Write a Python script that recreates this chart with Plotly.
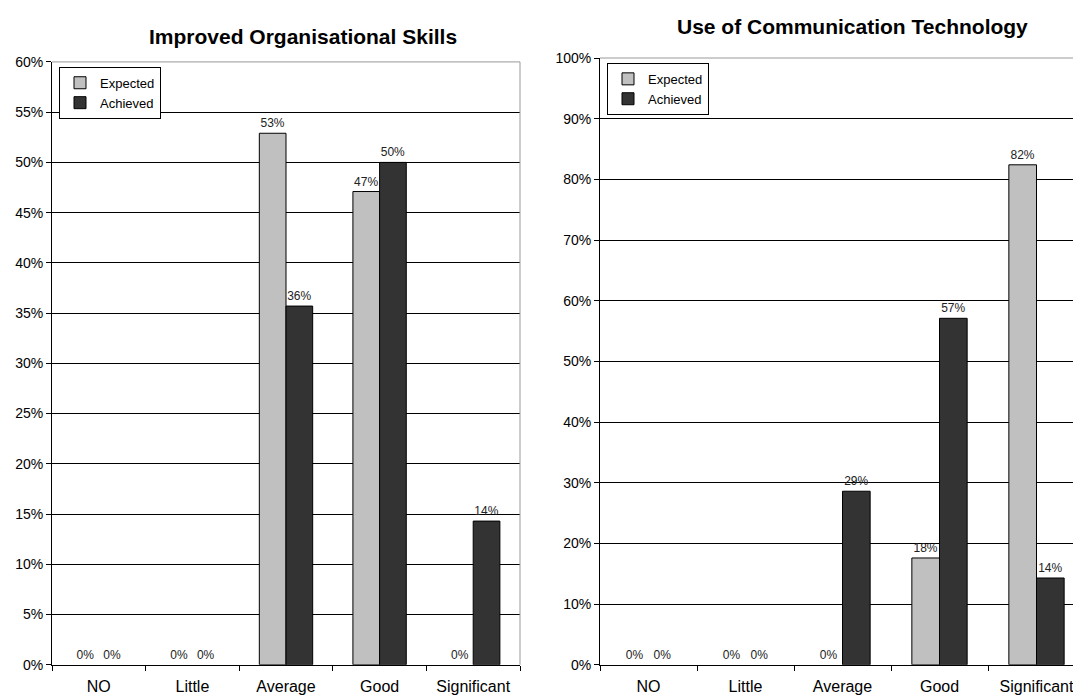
import plotly.graph_objects as go

categories = ["NO", "Little", "Average", "Good", "Significant"]
org_expected = [0, 0, 52.9, 47.1, 0]
org_achieved = [0, 0, 35.7, 50.0, 14.3]
comm_expected = [0, 0, 0, 17.6, 82.4]
comm_achieved = [0, 0, 28.6, 57.1, 14.3]
org_yticks = [0, 5, 10, 15, 20, 25, 30, 35, 40, 45, 50, 55, 60]
comm_yticks = [0, 10, 20, 30, 40, 50, 60, 70, 80, 90, 100]
series_names = ["Expected", "Achieved"]

W, H = 1081, 697
FONT = "Liberation Sans, Arial, sans-serif"
EXP_C = "#C0C0C0"
ACH_C = "#333333"

def px_x(v):
    return v / W

def px_y(v):
    return (H - v) / H

fig = go.Figure()

def add_bars(vals, name, color, xa, ya):
    fig.add_trace(go.Bar(
        x=categories, y=vals, name=name, xaxis=xa, yaxis=ya,
        marker=dict(color=color,
                    line=dict(color="#000000",
                              width=[0 if v == 0 else 1 for v in vals])),
        texttemplate="%{y:.0f}%", textposition="outside",
        textfont=dict(family=FONT, size=12, color="#222222"),
        cliponaxis=False, showlegend=False,
    ))

add_bars(org_expected, series_names[0], EXP_C, "x", "y")
add_bars(org_achieved, series_names[1], ACH_C, "x", "y")
add_bars(comm_expected, series_names[0], EXP_C, "x2", "y2")
add_bars(comm_achieved, series_names[1], ACH_C, "x2", "y2")

# legend-only entries (on a hidden axis) so the legend swatches keep an outline
for leg in ("legend", "legend2"):
    for name, color in zip(series_names, (EXP_C, ACH_C)):
        fig.add_trace(go.Bar(
            x=[0], y=[1], name=name, xaxis="x3", yaxis="y3",
            marker=dict(color=color, line=dict(color="#000000", width=1)),
            legend=leg, showlegend=True, hoverinfo="skip",
        ))

xcommon = dict(
    type="category", tickson="boundaries", ticks="outside", ticklen=5,
    tickcolor="#000000", showline=True, linecolor="#000000", linewidth=1,
    showgrid=False, tickfont=dict(family=FONT, size=16, color="#000000"),
    ticklabelstandoff=7,
)
ycommon = dict(
    ticks="outside", ticklen=5, tickcolor="#000000", showline=True,
    linecolor="#000000", linewidth=1, showgrid=True, gridcolor="#000000",
    gridwidth=1, zeroline=False,
    tickfont=dict(family=FONT, size=14, color="#000000"),
)

legend_common = dict(
    xanchor="left", yanchor="top", bordercolor="#000000", borderwidth=1,
    bgcolor="white", font=dict(family=FONT, size=13, color="#000000"),
    tracegroupgap=0, itemwidth=30, traceorder="normal",
)

fig.update_layout(
    width=W, height=H,
    margin=dict(l=0, r=0, t=0, b=0),
    paper_bgcolor="white", plot_bgcolor="white",
    barmode="group", bargap=0.43, bargroupgap=0.0,
    font=dict(family=FONT, color="#000000"),
    xaxis=dict(domain=[px_x(44), px_x(512)], anchor="y", **xcommon),
    yaxis=dict(domain=[px_y(664), px_y(47)], anchor="x", range=[0, 60],
               tickvals=org_yticks, ticktext=[f"{v}%" for v in org_yticks],
               **ycommon),
    xaxis2=dict(domain=[px_x(592), px_x(1077)], anchor="y2", **xcommon),
    yaxis2=dict(domain=[px_y(664), px_y(43)], anchor="x2", range=[0, 100],
                tickvals=comm_yticks, ticktext=[f"{v}%" for v in comm_yticks],
                **ycommon),
    xaxis3=dict(domain=[0, 0.001], anchor="y3", visible=False),
    yaxis3=dict(domain=[0, 0.001], anchor="x3", visible=False, range=[5, 6]),
    legend=dict(x=px_x(51), y=px_y(52), **legend_common),
    legend2=dict(x=px_x(599), y=px_y(48), **legend_common),
    showlegend=True,
)

# gray frame on top/right of each plot area
for xr, yr in (("x domain", "y domain"), ("x2 domain", "y2 domain")):
    fig.add_shape(type="line", xref=xr, yref=yr, x0=0, x1=1, y0=1, y1=1,
                  line=dict(color="#999999", width=1), layer="above")
    fig.add_shape(type="line", xref=xr, yref=yr, x0=1, x1=1, y0=0, y1=1,
                  line=dict(color="#999999", width=1), layer="above")

fig.add_annotation(text="<b>Improved Organisational Skills</b>", xref="paper",
                   yref="paper", x=px_x(295), y=px_y(21), xanchor="center",
                   yanchor="middle", showarrow=False,
                   font=dict(family=FONT, size=21, color="#000000"))
fig.add_annotation(text="<b>Use of Communication Technology</b>", xref="paper",
                   yref="paper", x=px_x(844), y=px_y(11), xanchor="center",
                   yanchor="middle", showarrow=False,
                   font=dict(family=FONT, size=21, color="#000000"))

fig.write_html("out.html")
